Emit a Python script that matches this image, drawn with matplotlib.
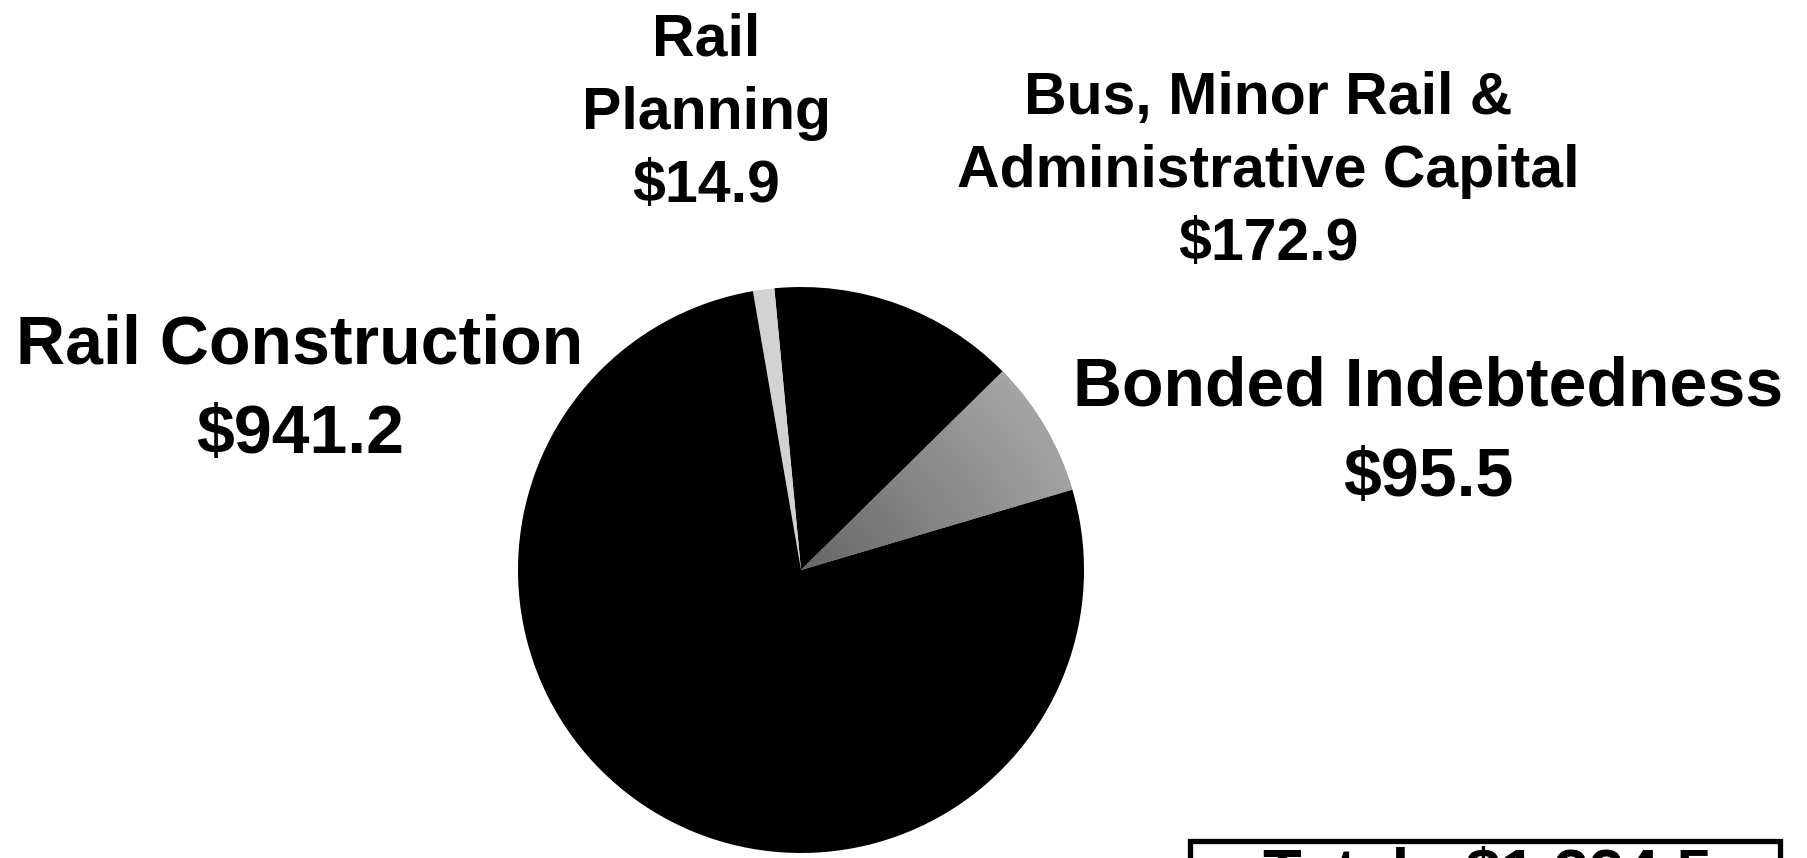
import numpy as np
import matplotlib
matplotlib.use("Agg")
from matplotlib import pyplot as plt
from matplotlib.patches import Rectangle

plt.rcParams['font.family'] = ['Liberation Sans', 'DejaVu Sans']
plt.rcParams['font.weight'] = 'bold'

# 资金分配（百万美元）
categories = ["Bonded Indebtedness",
              "Bus, Minor Rail &\nAdministrative Capital",
              "Rail\nPlanning",
              "Rail Construction"]
amounts = [95.5, 172.9, 14.9, 941.2]
slice_colors = ["#8c8c8c", "#000000", "#d2d2d2", "#000000"]
total_label = "Total:  $1,224.5"

W, H = 1807, 858
fig = plt.figure(figsize=(W / 100, H / 100), dpi=100)
fig.patch.set_facecolor("white")


def px(x, y):
    # 像素坐标 -> figure 坐标
    return x / W, 1 - y / H


# 饼图区域：圆心 (801, 570)，半径 283
cx, cy, r = 801, 570, 283
ax = fig.add_axes([(cx - r) / W, (H - cy - r) / H, 2 * r / W, 2 * r / H])
wedges, _ = ax.pie(amounts, colors=slice_colors, startangle=16.5,
                   counterclock=True, radius=1,
                   wedgeprops=dict(linewidth=0))

# 债务那一块加一点灰度渐变
gx, gy = np.meshgrid(np.linspace(-1, 1, 300), np.linspace(-1, 1, 300))
shade = 0.40 + 0.22 * np.hypot(gx, gy) + 0.04 * gy
img = ax.imshow(shade, extent=(-1, 1, -1, 1), origin="lower", cmap="gray",
                vmin=0, vmax=1, zorder=3)
img.set_clip_path(wedges[0])
ax.set_xlim(-1, 1)
ax.set_ylim(-1, 1)
ax.axis("off")

# 标签：每行按基线位置放
labels = [
    (["Bonded Indebtedness", "$%.1f" % amounts[0]], 1428, [405, 496], 49),
    (["Bus, Minor Rail &", "Administrative Capital", "$%.1f" % amounts[1]],
     1268, [114, 187, 260], 42.5),
    (["Rail", "Planning", "$%.1f" % amounts[2]], 706, [55, 129, 202], 42.5),
    (["Rail Construction", "$%.1f" % amounts[3]], 300, [363, 453], 49),
]
for lines, x, ys, size in labels:
    for line, y in zip(lines, ys):
        fig.text(*px(x, y), line, ha="center", va="baseline",
                 fontsize=size, fontweight="bold", color="black")

# 右下角合计框
fig.patches.append(Rectangle(px(1190, 900), (1780 - 1190) / W, (900 - 841) / H,
                             transform=fig.transFigure, fill=False,
                             edgecolor="black", linewidth=3.8))
fig.text(*px(1487, 893), total_label, ha="center", va="baseline",
         fontsize=45.5, fontweight="bold", color="black")

fig.savefig("out.png", dpi=100, facecolor="white")
